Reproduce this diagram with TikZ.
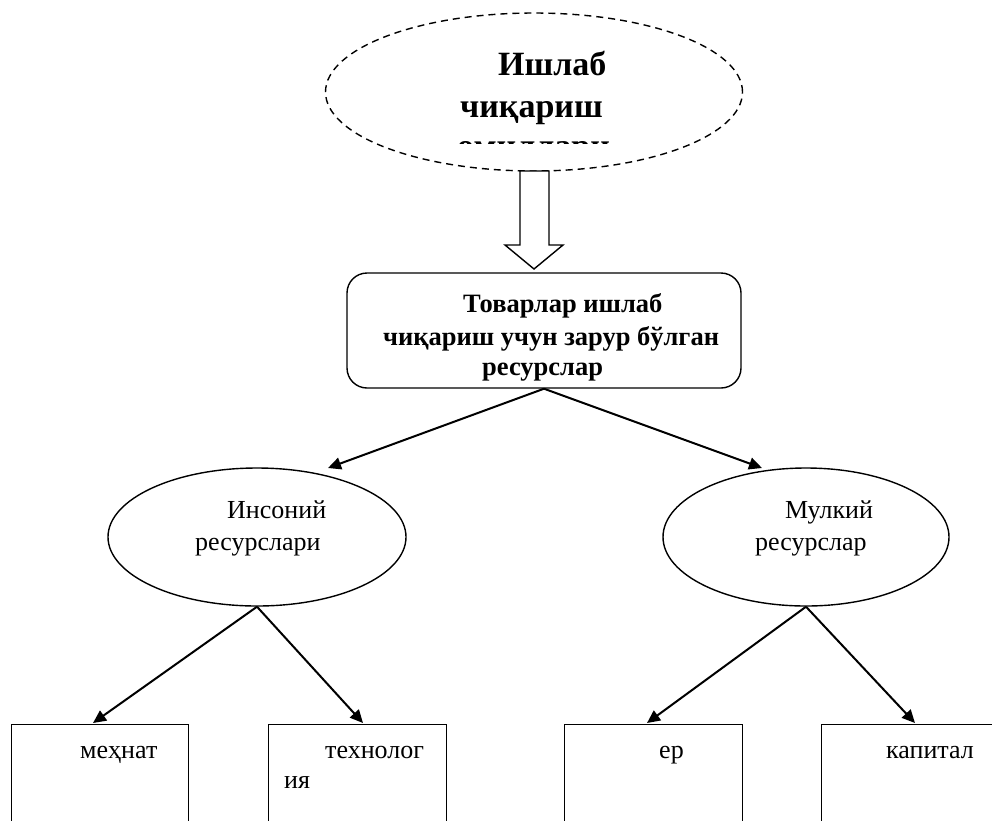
\documentclass[tikz,border=0pt]{standalone}
\usepackage{fontspec}
\setmainfont{Liberation Serif}
\usetikzlibrary{shapes.geometric,arrows.meta}
\tikzset{
  oval/.style={draw,ellipse,line width=1.4pt,inner sep=0pt},
  boxr/.style={draw,line width=1.4pt,inner sep=0pt},
  conn/.style={line width=2pt,-{Triangle[length=13pt,width=12pt]}},
  txt/.style={anchor=base west,inner sep=0pt,font=\fontsize{26}{30}\selectfont},
  btxt/.style={anchor=base west,inner sep=0pt,font=\fontsize{26.5}{30}\bfseries\selectfont},
  ttxt/.style={anchor=base west,inner sep=0pt,font=\fontsize{34}{40}\bfseries\selectfont},
}
\begin{document}
\begin{tikzpicture}[x=1pt,y=-1pt]
\useasboundingbox (0,0) rectangle (992,820);
\clip (0,0) rectangle (992,820);
% top dashed ellipse
\node[oval,dash pattern=on 7pt off 5pt,minimum width=417pt,minimum height=158pt] (top) at (534,92) {};
\node[ttxt] (t1) at (498,75) {Ишлаб};
\node[ttxt] (t2) at (460,117) {чиқариш};
\begin{scope}
\clip (0,0) rectangle (992,143.5);
\node[ttxt] (t3) at (457,157) {омиллари};
\end{scope}
% block arrow
\draw[line width=1.4pt,fill=white] (520,171) -- (549,171) -- (549,245) -- (563,245) -- (534,269) -- (505,245) -- (520,245) -- cycle;
% rounded rectangle
\node[boxr,rounded corners=20pt,minimum width=394pt,minimum height=115pt] (res) at (544,330.5) {};
\node[btxt] (r1) at (463,312) {Товарлар ишлаб};
\node[btxt] (r2) at (383,345) {чиқариш учун зарур бўлган};
\node[btxt] (r3) at (482,375) {ресурслар};
% middle ellipses
\node[oval,minimum width=298pt,minimum height=138pt] (ins) at (257,537) {};
\node[txt] (i1) at (227,518) {Инсоний};
\node[txt] (i2) at (195,550) {ресурслари};
\node[oval,minimum width=286pt,minimum height=138pt] (mul) at (806,537) {};
\node[txt] (m1) at (785,518) {Мулкий};
\node[txt] (m2) at (755,550) {ресурслар};
% connectors
\coordinate (ainsT) at (328,468);
\coordinate (amulT) at (762,468);
\draw[conn] (res.south) -- (ainsT);
\draw[conn] (res.south) -- (amulT);
% bottom boxes
\node[boxr,anchor=north west,minimum width=177pt,minimum height=120pt] (b1) at (11,724) {};
\node[boxr,anchor=north west,minimum width=178pt,minimum height=120pt] (b2) at (268,724) {};
\node[boxr,anchor=north west,minimum width=178pt,minimum height=120pt] (b3) at (564,724) {};
\node[boxr,anchor=north west,minimum width=178pt,minimum height=120pt] (b4) at (821,724) {};
\node[txt] (x1) at (80,758) {меҳнат};
\node[txt] (x2) at (325,758) {технолог};
\node[txt] (x2b) at (284,788) {ия};
\node[txt] (x3) at (659,758) {ер};
\node[txt] (x4) at (886,758) {капитал};
\coordinate (ab1) at (93,723);
\coordinate (ab2) at (363,723);
\coordinate (ab3) at (647,723);
\coordinate (ab4) at (915,723);
\draw[conn] (ins.south) -- (ab1);
\draw[conn] (ins.south) -- (ab2);
\draw[conn] (mul.south) -- (ab3);
\draw[conn] (mul.south) -- (ab4);
\end{tikzpicture}
\end{document}
